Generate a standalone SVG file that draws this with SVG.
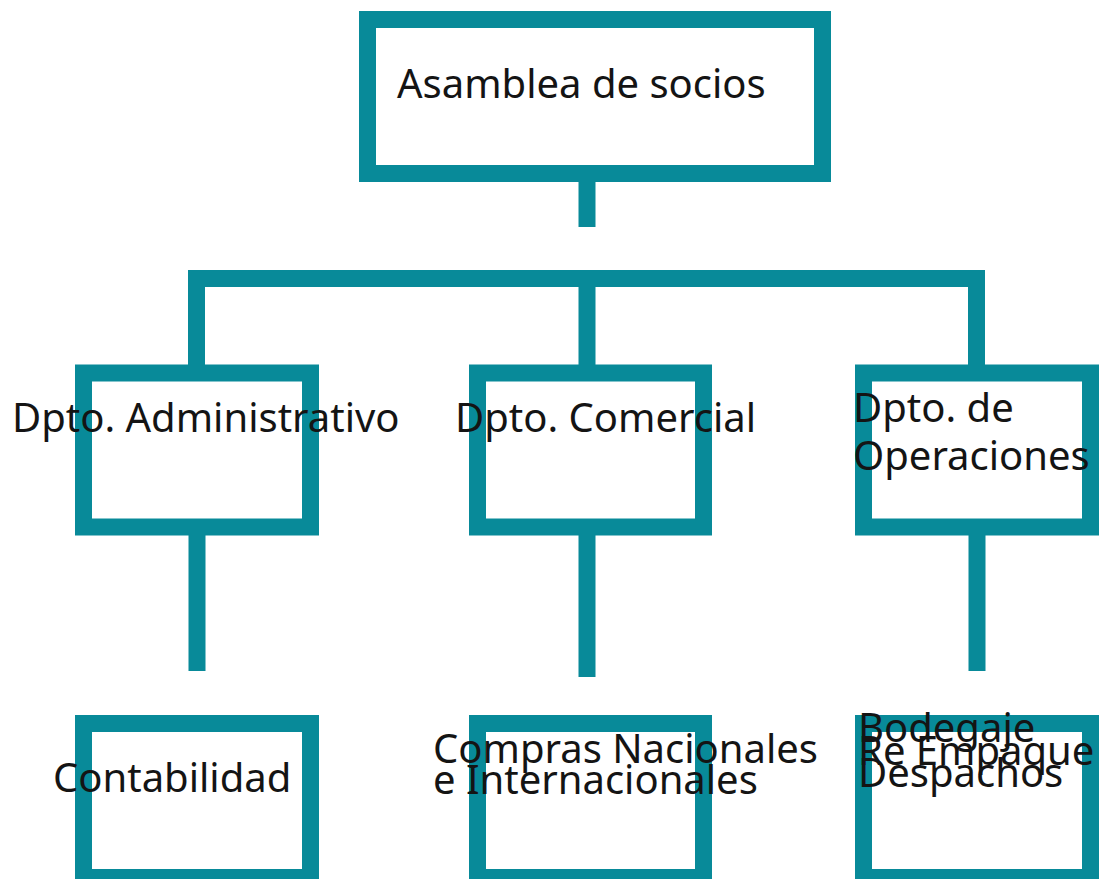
<svg xmlns="http://www.w3.org/2000/svg" width="1101" height="879" viewBox="0 0 1101 879">
<style>
.box{fill:#ffffff;stroke:#088a99;stroke-width:17}
.con{fill:none;stroke:#088a99;stroke-width:17;stroke-linecap:butt;stroke-linejoin:miter}
.t{font-family:"Noto Sans","Open Sans",sans-serif;font-size:40px;fill:#141414}
</style>
<rect width="1101" height="879" fill="#ffffff"/>
<g id="connectors">
<path class="con" d="M587,182 V227"/>
<path class="con" d="M196.5,365 V278.5 H976.5 V365"/>
<path class="con" d="M587,287 V365"/>
<path class="con" d="M197,535 V671"/>
<path class="con" d="M587,535 V677"/>
<path class="con" d="M977,535 V671"/>
</g>
<g id="asamblea">
<rect class="box" x="367.5" y="19.5" width="455" height="154"/>
<text class="t" x="397" y="98">Asamblea de socios</text>
</g>
<g id="administrativo">
<rect class="box" x="83.5" y="373" width="227" height="154"/>
<text class="t" x="12" y="432">Dpto. Administrativo</text>
</g>
<g id="comercial">
<rect class="box" x="477.5" y="373" width="226" height="154"/>
<text class="t" x="455" y="432">Dpto. Comercial</text>
</g>
<g id="operaciones">
<rect class="box" x="863.5" y="373" width="227" height="154"/>
<text class="t" x="853" y="422">Dpto. de</text>
<text class="t" x="853" y="470">Operaciones</text>
</g>
<g id="contabilidad">
<rect class="box" x="83.5" y="723.5" width="227" height="154"/>
<text class="t" x="53" y="792">Contabilidad</text>
</g>
<g id="compras">
<rect class="box" x="477.5" y="723.5" width="226" height="154"/>
<text class="t" x="433" y="763">Compras Nacionales</text>
<text class="t" x="433" y="794">e Internacionales</text>
</g>
<g id="bodegaje">
<rect class="box" x="863.5" y="723.5" width="227" height="154"/>
<text class="t" x="858" y="742">Bodegaje</text>
<text class="t" x="858" y="765">Re Empaque</text>
<text class="t" x="858" y="787">Despachos</text>
</g>
</svg>
